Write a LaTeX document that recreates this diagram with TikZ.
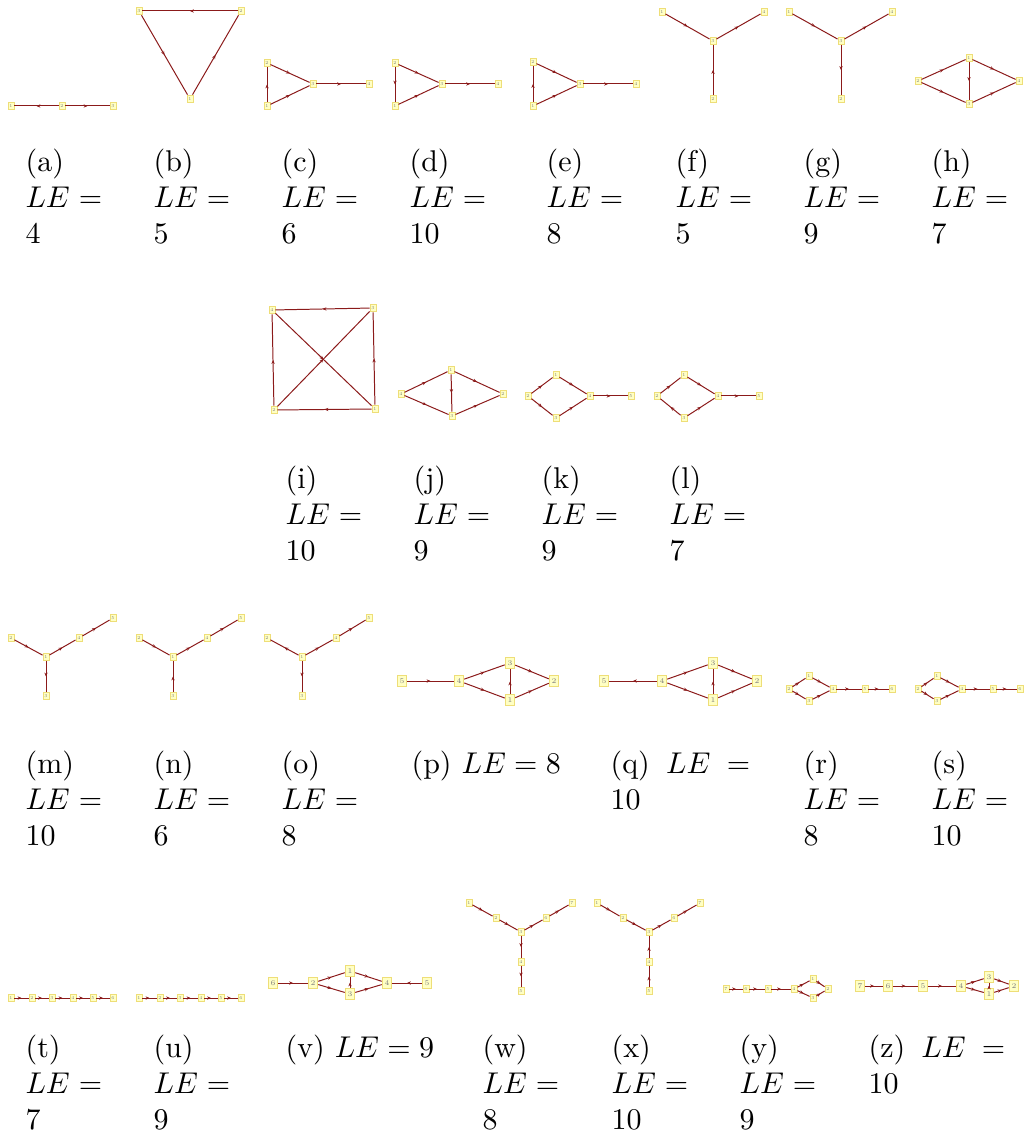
\documentclass[tikz,border=0pt]{standalone}
\usepackage{fontspec}
\usetikzlibrary{decorations.markings,arrows.meta}
\definecolor{edgecol}{RGB}{139,26,26}
\definecolor{nodefill}{RGB}{255,255,196}
\definecolor{nodedraw}{RGB}{238,222,120}
\newcommand\capthree[5]{%
  \node[captxt] (#1l) at (#2-2,#3) {(#4)};
  \node[captxt] (#1m) at (#2-2,#3+36) {\hbox to 25.5pt{$LE$\hfill$=$}};
  \node[captxt] (#1v) at (#2-2,#3+72) {#5};}
\begin{document}
\begin{tikzpicture}[x=0.33333pt,y=-0.33333pt,
  gn/.style={draw=nodedraw,fill=nodefill,line width=0.3pt,inner sep=0pt,minimum width=2pt,minimum height=2.6pt,font=\fontsize{1.5pt}{1.8pt}\selectfont,text=gray},
  gm/.style={gn,minimum width=3.2pt,minimum height=3.7pt,font=\fontsize{2.4pt}{2.8pt}\selectfont},
  ed/.style={draw=edgecol,line width=0.33pt,postaction={decorate},decoration={markings,mark=at position 0.5 with {\arrow{Stealth[length=1.3pt,width=1.1pt]}}}},
  captxt/.style={anchor=base west,inner sep=0pt,font=\normalsize}]
\useasboundingbox (0,0) rectangle (1024,1140);
% (a)
\node[gn] (a1) at (11,106) {1}; \node[gn] (a2) at (62,106) {2}; \node[gn] (a3) at (113,106) {3};
\draw[ed] (a2) -- (a1); \draw[ed] (a2) -- (a3);
% (b)
\node[gn] (b3) at (139,11) {3}; \node[gn] (b2) at (241,11) {2}; \node[gn] (b1) at (190,99) {1};
\draw[ed] (b2) -- (b3); \draw[ed] (b3) -- (b1); \draw[ed] (b1) -- (b2);
% (c)
\node[gn] (c2) at (267,63) {2}; \node[gn] (c1) at (267,106) {1}; \node[gn] (c3) at (313,84) {3}; \node[gn] (c4) at (369,84) {4};
\draw[ed] (c1) -- (c2); \draw[ed] (c2) -- (c3); \draw[ed] (c1) -- (c3); \draw[ed] (c3) -- (c4);
% (d)
\node[gn] (d2) at (395,63) {2}; \node[gn] (d1) at (395,106) {1}; \node[gn] (d3) at (442,84) {3}; \node[gn] (d4) at (498,84) {4};
\draw[ed] (d2) -- (d1); \draw[ed] (d2) -- (d3); \draw[ed] (d1) -- (d3); \draw[ed] (d3) -- (d4);
% (e)
\node[gn] (e2) at (533,62) {2}; \node[gn] (e1) at (533,106) {1}; \node[gn] (e3) at (580,84) {3}; \node[gn] (e4) at (636,84) {4};
\draw[ed] (e1) -- (e2); \draw[ed] (e2) -- (e3); \draw[ed] (e1) -- (e3); \draw[ed] (e3) -- (e4);
% (f)
\node[gn] (f1) at (662,12) {1}; \node[gn] (f4) at (764,12) {4}; \node[gn] (f3) at (713,41) {3}; \node[gn] (f2) at (713,99) {2};
\draw[ed] (f1) -- (f3); \draw[ed] (f3) -- (f4); \draw[ed] (f2) -- (f3);
% (g)
\node[gn] (g1) at (789,12) {1}; \node[gn] (g4) at (892,12) {4}; \node[gn] (g3) at (841,41) {3}; \node[gn] (g2) at (841,99) {2};
\draw[ed] (g1) -- (g3); \draw[ed] (g3) -- (g4); \draw[ed] (g3) -- (g2);
% (h)
\node[gn] (h2) at (918,81) {2}; \node[gn] (h1) at (969,58) {1}; \node[gn] (h4) at (1019,81) {4}; \node[gn] (h3) at (969,104) {3};
\draw[ed] (h2) -- (h1); \draw[ed] (h2) -- (h3); \draw[ed] (h1) -- (h3); \draw[ed] (h1) -- (h4); \draw[ed] (h3) -- (h4);
% (i)
\node[gn] (i4) at (272,310) {4}; \node[gn] (i3) at (373,308) {3}; \node[gn] (i2) at (274,410) {2}; \node[gn] (i1) at (375,409) {1};
\draw[ed] (i3) -- (i4); \draw[ed] (i2) -- (i4); \draw[ed] (i1) -- (i2); \draw[ed] (i1) -- (i3); \draw[ed] (i4) -- (i1); \draw[ed] (i2) -- (i3);
% (j)
\node[gn] (j4) at (401,394) {4}; \node[gn] (j1) at (451,370) {1}; \node[gn] (j2) at (503,394) {2}; \node[gn] (j3) at (452,416) {3};
\draw[ed] (j4) -- (j1); \draw[ed] (j4) -- (j3); \draw[ed] (j1) -- (j3); \draw[ed] (j1) -- (j2); \draw[ed] (j3) -- (j2);
% (k)
\node[gn] (k2) at (528,396) {2}; \node[gn] (k1) at (556,375) {1}; \node[gn] (k3) at (556,418) {3}; \node[gn] (k4) at (590,396) {4}; \node[gn] (k5) at (631,396) {5};
\draw[ed] (k2) -- (k1); \draw[ed] (k2) -- (k3); \draw[ed] (k1) -- (k4); \draw[ed] (k3) -- (k4); \draw[ed] (k4) -- (k5);
% (l)
\node[gn] (l2) at (657,396) {2}; \node[gn] (l1) at (684,375) {1}; \node[gn] (l3) at (684,418) {3}; \node[gn] (l4) at (718,396) {4}; \node[gn] (l5) at (759,396) {5};
\draw[ed] (l2) -- (l1); \draw[ed] (l3) -- (l2); \draw[ed] (l1) -- (l4); \draw[ed] (l3) -- (l4); \draw[ed] (l4) -- (l5);
% (m)
\node[gn] (m2) at (11,638) {2}; \node[gn] (m1) at (46,657) {1}; \node[gn] (m4) at (79,638) {4}; \node[gn] (m5) at (113,618) {5}; \node[gn] (m3) at (46,696) {3};
\draw[ed] (m2) -- (m1); \draw[ed] (m1) -- (m4); \draw[ed] (m4) -- (m5); \draw[ed] (m1) -- (m3);
% (n)
\node[gn] (n2) at (139,638) {2}; \node[gn] (n1) at (173,657) {1}; \node[gn] (n4) at (207,638) {4}; \node[gn] (n5) at (241,618) {5}; \node[gn] (n3) at (173,696) {3};
\draw[ed] (n2) -- (n1); \draw[ed] (n1) -- (n4); \draw[ed] (n4) -- (n5); \draw[ed] (n3) -- (n1);
% (o)
\node[gn] (o2) at (267,638) {2}; \node[gn] (o1) at (302,657) {1}; \node[gn] (o4) at (336,638) {4}; \node[gn] (o5) at (369,618) {5}; \node[gn] (o3) at (302,696) {3};
\draw[ed] (o1) -- (o2); \draw[ed] (o1) -- (o4); \draw[ed] (o4) -- (o5); \draw[ed] (o1) -- (o3);
% (p)
\node[gm] (p5) at (402,681) {5}; \node[gm] (p4) at (459,681) {4}; \node[gm] (p3) at (510,663) {3}; \node[gm] (p1) at (510,700) {1}; \node[gm] (p2) at (554,681) {2};
\draw[ed] (p5) -- (p4); \draw[ed] (p4) -- (p3); \draw[ed] (p4) -- (p1); \draw[ed] (p1) -- (p3); \draw[ed] (p3) -- (p2); \draw[ed] (p1) -- (p2);
% (q)
\node[gm] (q5) at (604,681) {5}; \node[gm] (q4) at (662,681) {4}; \node[gm] (q3) at (713,663) {3}; \node[gm] (q1) at (713,700) {1}; \node[gm] (q2) at (757,681) {2};
\draw[ed] (q4) -- (q5); \draw[ed] (q4) -- (q3); \draw[ed] (q4) -- (q1); \draw[ed] (q1) -- (q3); \draw[ed] (q3) -- (q2); \draw[ed] (q1) -- (q2);
% (r)
\node[gn] (r2) at (789,689) {2}; \node[gn] (r1) at (809,676) {1}; \node[gn] (r3) at (809,701) {3}; \node[gn] (r4) at (833,689) {4}; \node[gn] (r5) at (865,689) {5}; \node[gn] (r6) at (892,689) {6};
\draw[ed] (r2) -- (r1); \draw[ed] (r2) -- (r3); \draw[ed] (r1) -- (r4); \draw[ed] (r3) -- (r4); \draw[ed] (r4) -- (r5); \draw[ed] (r5) -- (r6);
% (s)
\node[gn] (s2) at (918,689) {2}; \node[gn] (s1) at (937,676) {1}; \node[gn] (s3) at (937,701) {3}; \node[gn] (s4) at (962,689) {4}; \node[gn] (s5) at (993,689) {5}; \node[gn] (s6) at (1020,689) {6};
\draw[ed] (s2) -- (s1); \draw[ed] (s2) -- (s3); \draw[ed] (s1) -- (s4); \draw[ed] (s3) -- (s4); \draw[ed] (s4) -- (s5); \draw[ed] (s5) -- (s6);
% (t)
\node[gn] (t1) at (11,998) {1}; \node[gn] (t2) at (32,998) {2}; \node[gn] (t3) at (52,998) {3}; \node[gn] (t4) at (73,998) {4}; \node[gn] (t5) at (93,998) {5}; \node[gn] (t6) at (113,998) {6};
\draw[ed] (t1) -- (t2); \draw[ed] (t2) -- (t3); \draw[ed] (t3) -- (t4); \draw[ed] (t4) -- (t5); \draw[ed] (t5) -- (t6);
% (u)
\node[gn] (u1) at (139,998) {1}; \node[gn] (u2) at (160,998) {2}; \node[gn] (u3) at (180,998) {3}; \node[gn] (u4) at (201,998) {4}; \node[gn] (u5) at (221,998) {5}; \node[gn] (u6) at (241,998) {6};
\draw[ed] (u1) -- (u2); \draw[ed] (u2) -- (u3); \draw[ed] (u3) -- (u4); \draw[ed] (u4) -- (u5); \draw[ed] (u5) -- (u6);
% (v)
\node[gm] (v6) at (273,983) {6}; \node[gm] (v2) at (313,983) {2}; \node[gm] (v1) at (350,971) {1}; \node[gm] (v3) at (350,994) {3}; \node[gm] (v4) at (387,983) {4}; \node[gm] (v5) at (427,983) {5};
\draw[ed] (v6) -- (v2); \draw[ed] (v2) -- (v1); \draw[ed] (v2) -- (v3); \draw[ed] (v3) -- (v1); \draw[ed] (v1) -- (v4); \draw[ed] (v3) -- (v4); \draw[ed] (v5) -- (v4);
% (w)
\node[gn] (w1) at (469,903) {1}; \node[gn] (w2) at (496,918) {2}; \node[gn] (w3) at (521,932) {3}; \node[gn] (w6) at (546,918) {6}; \node[gn] (w7) at (572,903) {7}; \node[gn] (w4) at (521,962) {4}; \node[gn] (w5) at (521,991) {5};
\draw[ed] (w1) -- (w2); \draw[ed] (w2) -- (w3); \draw[ed] (w3) -- (w6); \draw[ed] (w6) -- (w7); \draw[ed] (w3) -- (w4); \draw[ed] (w4) -- (w5);
% (x)
\node[gn] (x1) at (597,903) {1}; \node[gn] (x2) at (623,918) {2}; \node[gn] (x3) at (649,932) {3}; \node[gn] (x6) at (674,918) {6}; \node[gn] (x7) at (700,903) {7}; \node[gn] (x4) at (649,962) {4}; \node[gn] (x5) at (649,991) {5};
\draw[ed] (x1) -- (x2); \draw[ed] (x2) -- (x3); \draw[ed] (x3) -- (x6); \draw[ed] (x6) -- (x7); \draw[ed] (x4) -- (x3); \draw[ed] (x5) -- (x4);
% (y)
\node[gn] (y7) at (726,989) {7}; \node[gn] (y6) at (746,989) {6}; \node[gn] (y5) at (768,989) {5}; \node[gn] (y4) at (794,989) {4}; \node[gn] (y1) at (813,979) {1}; \node[gn] (y3) at (813,998) {3}; \node[gn] (y2) at (828,989) {2};
\draw[ed] (y7) -- (y6); \draw[ed] (y6) -- (y5); \draw[ed] (y5) -- (y4); \draw[ed] (y4) -- (y1); \draw[ed] (y4) -- (y3); \draw[ed] (y1) -- (y2); \draw[ed] (y3) -- (y2);
% (z)
\node[gm] (z7) at (860,986) {7}; \node[gm] (z6) at (888,986) {6}; \node[gm] (z5) at (923,986) {5}; \node[gm] (z4) at (961,986) {4}; \node[gm] (z3) at (989,977) {3}; \node[gm] (z1) at (989,994) {1}; \node[gm] (z2) at (1014,986) {2};
\draw[ed] (z7) -- (z6); \draw[ed] (z6) -- (z5); \draw[ed] (z5) -- (z4); \draw[ed] (z4) -- (z3); \draw[ed] (z4) -- (z1); \draw[ed] (z1) -- (z3); \draw[ed] (z3) -- (z2); \draw[ed] (z1) -- (z2);
% captions row 1
\capthree{ca}{27}{172}{a}{4}
\capthree{cb}{155}{172}{b}{5}
\capthree{cc}{283}{172}{c}{6}
\capthree{cd}{411}{172}{d}{10}
\capthree{ce}{548}{172}{e}{8}
\capthree{cf}{677}{172}{f}{5}
\capthree{cg}{805}{172}{g}{9}
\capthree{ch}{933}{172}{h}{7}
% row 2
\capthree{ci}{287}{489}{i}{10}
\capthree{cj}{415}{489}{j}{9}
\capthree{ck}{543}{489}{k}{9}
\capthree{cl}{671}{489}{l}{7}
% row 3
\capthree{cm}{27}{773}{m}{10}
\capthree{cn}{155}{773}{n}{6}
\capthree{co}{283}{773}{o}{8}
\node[captxt] (cp) at (411,773) {(p) $LE=8$};
\node[captxt] (cq) at (610,773) {\hbox to 46.5pt{(q)\hfill$LE$\hfill$=$}};
\node[captxt] (cqv) at (610,809) {10};
\capthree{cr}{805}{773}{r}{8}
\capthree{cs}{933}{773}{s}{10}
% row 4
\capthree{ct}{27}{1057}{t}{7}
\capthree{cu}{155}{1057}{u}{9}
\node[captxt] (cv) at (285,1057) {(v) $LE=9$};
\capthree{cw}{484}{1057}{w}{8}
\capthree{cx}{613}{1057}{x}{10}
\capthree{cy}{741}{1057}{y}{9}
\node[captxt] (cz) at (868,1057) {\hbox to 45.5pt{(z)\hfill$LE$\hfill$=$}};
\node[captxt] (czv) at (868,1093) {10};
\end{tikzpicture}
\end{document}
